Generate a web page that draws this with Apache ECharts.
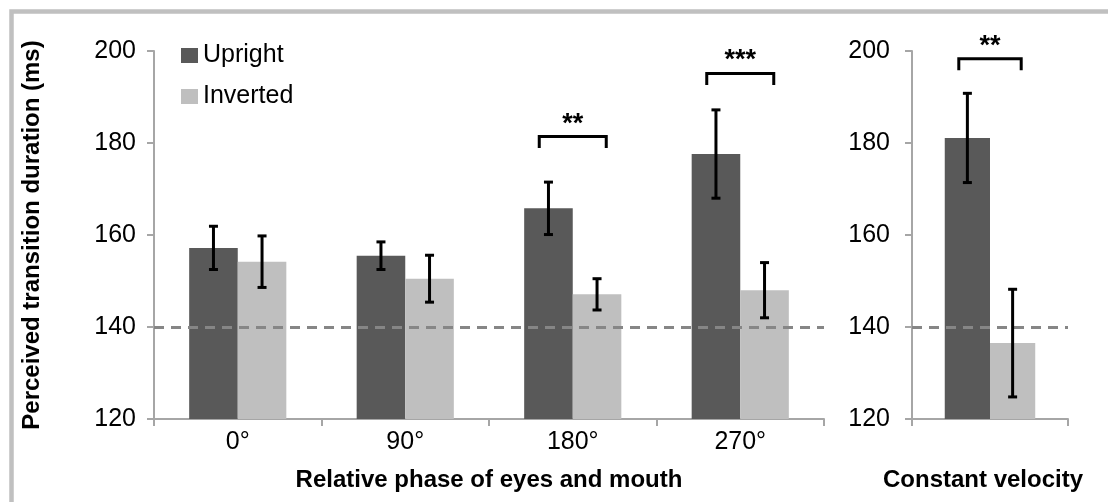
<!DOCTYPE html>
<html>
<head>
<meta charset="utf-8">
<script src="https://cdn.jsdelivr.net/npm/echarts@6/dist/echarts.min.js"></script>
<style>
  html, body { margin: 0; padding: 0; background: #fff; }
  #chart { width: 1108px; height: 502px; }
</style>
</head>
<body>
<div id="chart"></div>
<script>
// data
var categories = ['0°', '90°', '180°', '270°'];
var upright = [157.2, 155.5, 165.8, 177.6];
var uprightErr = [4.7, 3.0, 5.7, 9.6];
var inverted = [154.2, 150.5, 147.1, 148.0];
var invertedErr = [5.6, 5.1, 3.4, 6.0];

var cvCategories = [''];
var cvUpright = [181.1];
var cvUprightErr = [9.7];
var cvInverted = [136.5];
var cvInvertedErr = [11.7];

var sigCats = [2, 3];
var sigTop = [181.4, 195.1];
var sigLabels = ['**', '***'];
var cvSigTop = [198.3];
var cvSigLabels = ['**'];

var reference = 140;
var yTicks = [120, 140, 160, 180, 200];

var FONT = 'Liberation Sans, Arial, sans-serif';
var DARK = '#595959';
var LIGHT = '#bfbfbf';
var GAP = 0.42;               // barCategoryGap
var BAR = (1 - GAP) / 2;       // one bar as share of the category

// error bars: [cat, mean, err, side]
function errData(means, errs, side) {
  return means.map(function (m, i) { return [i, m, errs[i], side]; });
}
function renderErr(params, api) {
  var c = api.value(0), m = api.value(1), e = api.value(2), side = api.value(3);
  var w = api.size([1, 0])[0];
  var off = side * w * BAR / 2;
  var hi = api.coord([c, m + e]);
  var lo = api.coord([c, m - e]);
  var x = hi[0] + off;
  var st = { stroke: '#000', lineWidth: 3 };
  return {
    type: 'group',
    children: [
      { type: 'line', shape: { x1: x, y1: hi[1], x2: x, y2: lo[1] }, style: st },
      { type: 'line', shape: { x1: x - 4.5, y1: hi[1], x2: x + 4.5, y2: hi[1] }, style: st },
      { type: 'line', shape: { x1: x - 4.5, y1: lo[1], x2: x + 4.5, y2: lo[1] }, style: st }
    ]
  };
}

// significance brackets: [cat, top]
function makeBracketRender(labels) {
  return function (params, api) {
    var c = api.value(0), top = api.value(1);
    var w = api.size([1, 0])[0];
    var p = api.coord([c, top]);
    var leg = api.coord([c, top - 2.5]);
    var half = w * 0.2;
    return {
      type: 'group',
      children: [
        { type: 'polyline',
          shape: { points: [[p[0] - half, leg[1]], [p[0] - half, p[1]], [p[0] + half, p[1]], [p[0] + half, leg[1]]] },
          style: { stroke: '#000', lineWidth: 3, fill: null } },
        { type: 'text',
          style: { x: p[0], y: p[1] + 1, text: labels[params.dataIndex], align: 'center', verticalAlign: 'bottom',
                   font: 'bold 27px ' + FONT, fill: '#000' } }
      ]
    };
  };
}

var axisLine = { lineStyle: { color: '#a6a6a6', width: 2 } };
var refLine = {
  silent: true, symbol: 'none', label: { show: false },
  lineStyle: { color: '#868686', type: [10, 7], width: 3 },
  data: [{ yAxis: reference }]
};

function yAxisCfg(idx, margin, name) {
  return {
    type: 'value', gridIndex: idx, min: yTicks[0], max: yTicks[yTicks.length - 1], interval: 20,
    axisLine: { show: true, lineStyle: axisLine.lineStyle },
    axisTick: { show: true, length: 7, lineStyle: axisLine.lineStyle },
    splitLine: { show: false },
    axisLabel: { color: '#000', fontSize: 25, fontFamily: FONT, margin: margin },
    name: name, nameLocation: 'middle', nameGap: 110,
    nameTextStyle: { color: '#000', fontSize: 24, fontWeight: 'bold', fontFamily: FONT }
  };
}
function xAxisCfg(idx, data, name, shift) {
  return {
    type: 'category', gridIndex: idx, data: data,
    axisLine: axisLine,
    axisTick: { show: true, length: 7, lineStyle: axisLine.lineStyle },
    axisLabel: { color: '#000', fontSize: 25, fontFamily: FONT, margin: 11 },
    name: name, nameLocation: 'middle', nameGap: 49,
    nameTextStyle: { color: '#000', fontSize: 24, fontWeight: 'bold', fontFamily: FONT,
                     padding: [0, shift, 0, 0] }
  };
}

var chart = echarts.init(document.getElementById('chart'));
chart.setOption({
  animation: false,
  backgroundColor: '#fff',
  textStyle: { fontFamily: FONT },
  graphic: [{
    type: 'rect', silent: true,
    shape: { x: 11.5, y: 11.5, width: 1120, height: 520 },
    style: { fill: null, stroke: '#c0c0c0', lineWidth: 4.5 }
  }],
  legend: {
    orient: 'vertical', left: 176, top: 38,
    itemWidth: 17, itemHeight: 15, itemGap: 16,
    icon: 'rect',
    textStyle: { color: '#000', fontSize: 25, fontFamily: FONT },
    data: ['Upright', 'Inverted']
  },
  grid: [
    { left: 154, right: 284, top: 51, bottom: 83 },
    { left: 912, width: 156, top: 51, bottom: 83 }
  ],
  xAxis: [
    xAxisCfg(0, categories, 'Relative phase of eyes and mouth', 0),
    xAxisCfg(1, cvCategories, 'Constant velocity', 14)
  ],
  yAxis: [
    yAxisCfg(0, 18, 'Perceived transition duration (ms)'),
    yAxisCfg(1, 22, '')
  ],
  series: [
    { name: 'Upright', type: 'bar', xAxisIndex: 0, yAxisIndex: 0, data: upright,
      barGap: '0%', barCategoryGap: (GAP * 100) + '%', itemStyle: { color: DARK }, markLine: refLine, z: 2 },
    { name: 'Inverted', type: 'bar', xAxisIndex: 0, yAxisIndex: 0, data: inverted,
      barGap: '0%', barCategoryGap: (GAP * 100) + '%', itemStyle: { color: LIGHT }, z: 2 },
    { type: 'custom', xAxisIndex: 0, yAxisIndex: 0, renderItem: renderErr, z: 5,
      data: errData(upright, uprightErr, -1).concat(errData(inverted, invertedErr, 1)) },
    { type: 'custom', xAxisIndex: 0, yAxisIndex: 0, renderItem: makeBracketRender(sigLabels), z: 5,
      data: sigCats.map(function (c, i) { return [c, sigTop[i]]; }) },

    { name: 'Upright', type: 'bar', xAxisIndex: 1, yAxisIndex: 1, data: cvUpright,
      barGap: '0%', barCategoryGap: (GAP * 100) + '%', itemStyle: { color: DARK }, markLine: refLine, z: 2 },
    { name: 'Inverted', type: 'bar', xAxisIndex: 1, yAxisIndex: 1, data: cvInverted,
      barGap: '0%', barCategoryGap: (GAP * 100) + '%', itemStyle: { color: LIGHT }, z: 2 },
    { type: 'custom', xAxisIndex: 1, yAxisIndex: 1, renderItem: renderErr, z: 5,
      data: errData(cvUpright, cvUprightErr, -1).concat(errData(cvInverted, cvInvertedErr, 1)) },
    { type: 'custom', xAxisIndex: 1, yAxisIndex: 1, renderItem: makeBracketRender(cvSigLabels), z: 5,
      data: cvSigTop.map(function (t) { return [0, t]; }) }
  ]
});
</script>
</body>
</html>
